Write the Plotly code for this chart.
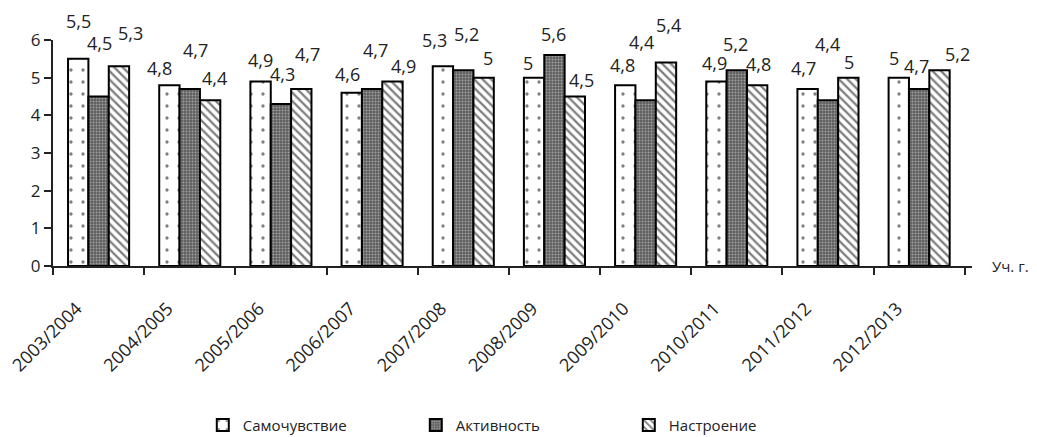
import plotly.graph_objects as go

# ---- data ----
years = ["2003/2004", "2004/2005", "2005/2006", "2006/2007", "2007/2008",
         "2008/2009", "2009/2010", "2010/2011", "2011/2012", "2012/2013"]
samochuvstvie = [5.5, 4.8, 4.9, 4.6, 5.3, 5.0, 4.8, 4.9, 4.7, 5.0]
aktivnost = [4.5, 4.7, 4.3, 4.7, 5.2, 5.6, 4.4, 5.2, 4.4, 4.7]
nastroenie = [5.3, 4.4, 4.7, 4.9, 5.0, 4.5, 5.4, 4.8, 5.0, 5.2]
series_names = ["Самочувствие", "Активность", "Настроение"]
y_ticks = [0, 1, 2, 3, 4, 5, 6]

# ---- label placement (pixel offsets from bar centre / bar top) ----
label_dx = [
    [0, -10, 0, -4, -8, -6, -3, -2, -4, -5],
    [1, 6, 2, 3, 3, -1, -4, -1, 0, -3],
    [12, 4, 6, 11, 4, 7, 3, 1, 1, 18],
]
label_dy = [
    [38, 17, 21, 19, 26, 15, 20, 18, 21, 20],
    [54, 39, 30, 39, 36, 21, 58, 26, 56, 23],
    [33, 22, 35, 15, 20, 17, 38, 21, 16, 16],
]

font_family = "Open Sans, Noto Sans, sans-serif"
bargap = 0.33

styles = [
    dict(color="white", pattern=dict(shape=".", fgcolor="black", bgcolor="white",
                                     size=12, solidity=0.06)),
    dict(color="#707070", pattern=dict(shape=".", fgcolor="#e0e0e0", bgcolor="#5e5e5e",
                                       size=3, solidity=0.35)),
    dict(color="white", pattern=dict(shape="\\", fgcolor="black", bgcolor="white",
                                     size=6, solidity=0.38)),
]

fig = go.Figure()
all_series = [samochuvstvie, aktivnost, nastroenie]
for name, vals, st in zip(series_names, all_series, styles):
    fig.add_trace(go.Bar(
        x=years, y=vals, name=name,
        marker=dict(color=st["color"], pattern=st["pattern"],
                    line=dict(color="black", width=2)),
    ))

def fmt(v):
    s = ("%g" % v)
    return s.replace(".", ",")

w = (1 - bargap) / 3
annotations = []
for j, vals in enumerate(all_series):
    for i, v in enumerate(vals):
        annotations.append(dict(
            x=i + (j - 1) * w, y=v, xref="x", yref="y",
            text=fmt(v), showarrow=False,
            xshift=label_dx[j][i], yshift=label_dy[j][i],
            yanchor="middle", xanchor="center",
            font=dict(size=18, color="#222222", family=font_family),
        ))

annotations.append(dict(
    x=1.0196, y=0, xref="paper", yref="y", text="Уч. г.", showarrow=False,
    xanchor="left", yanchor="middle",
    font=dict(size=15, color="#222222", family=font_family),
))

# page body has an 8px margin, so the figure is sized to fit the window
fig.update_layout(
    width=1029, height=429,
    margin=dict(l=45, r=65, t=32, b=171, autoexpand=False),
    paper_bgcolor="white", plot_bgcolor="white",
    barmode="group", bargap=bargap, bargroupgap=0,
    font=dict(family=font_family, color="#222222"),
    showlegend=True,
    legend=dict(orientation="h", x=0.163, y=-0.705, xanchor="left", yanchor="middle",
                font=dict(size=15, family=font_family, color="#222222"),
                entrywidth=168, entrywidthmode="pixels",
                itemwidth=30, traceorder="normal"),
    annotations=annotations,
)
fig.update_xaxes(
    type="category", showline=True, linecolor="#222222", linewidth=2,
    ticks="outside", tickson="boundaries", ticklen=7, tickwidth=2, tickcolor="#222222",
    tickangle=-45, tickfont=dict(size=18, family=font_family, color="#222222"),
    ticklabelstandoff=23, ticklabelshift=-22,
    showgrid=False, zeroline=False, automargin=False,
)
fig.update_yaxes(
    range=[0, 6], tickvals=y_ticks, showline=True, linecolor="#222222", linewidth=2,
    ticks="outside", ticklen=7, tickwidth=2, tickcolor="#222222",
    tickfont=dict(size=17, family=font_family, color="#222222"),
    showgrid=False, zeroline=False, automargin=False,
)

fig.write_html("out.html")
